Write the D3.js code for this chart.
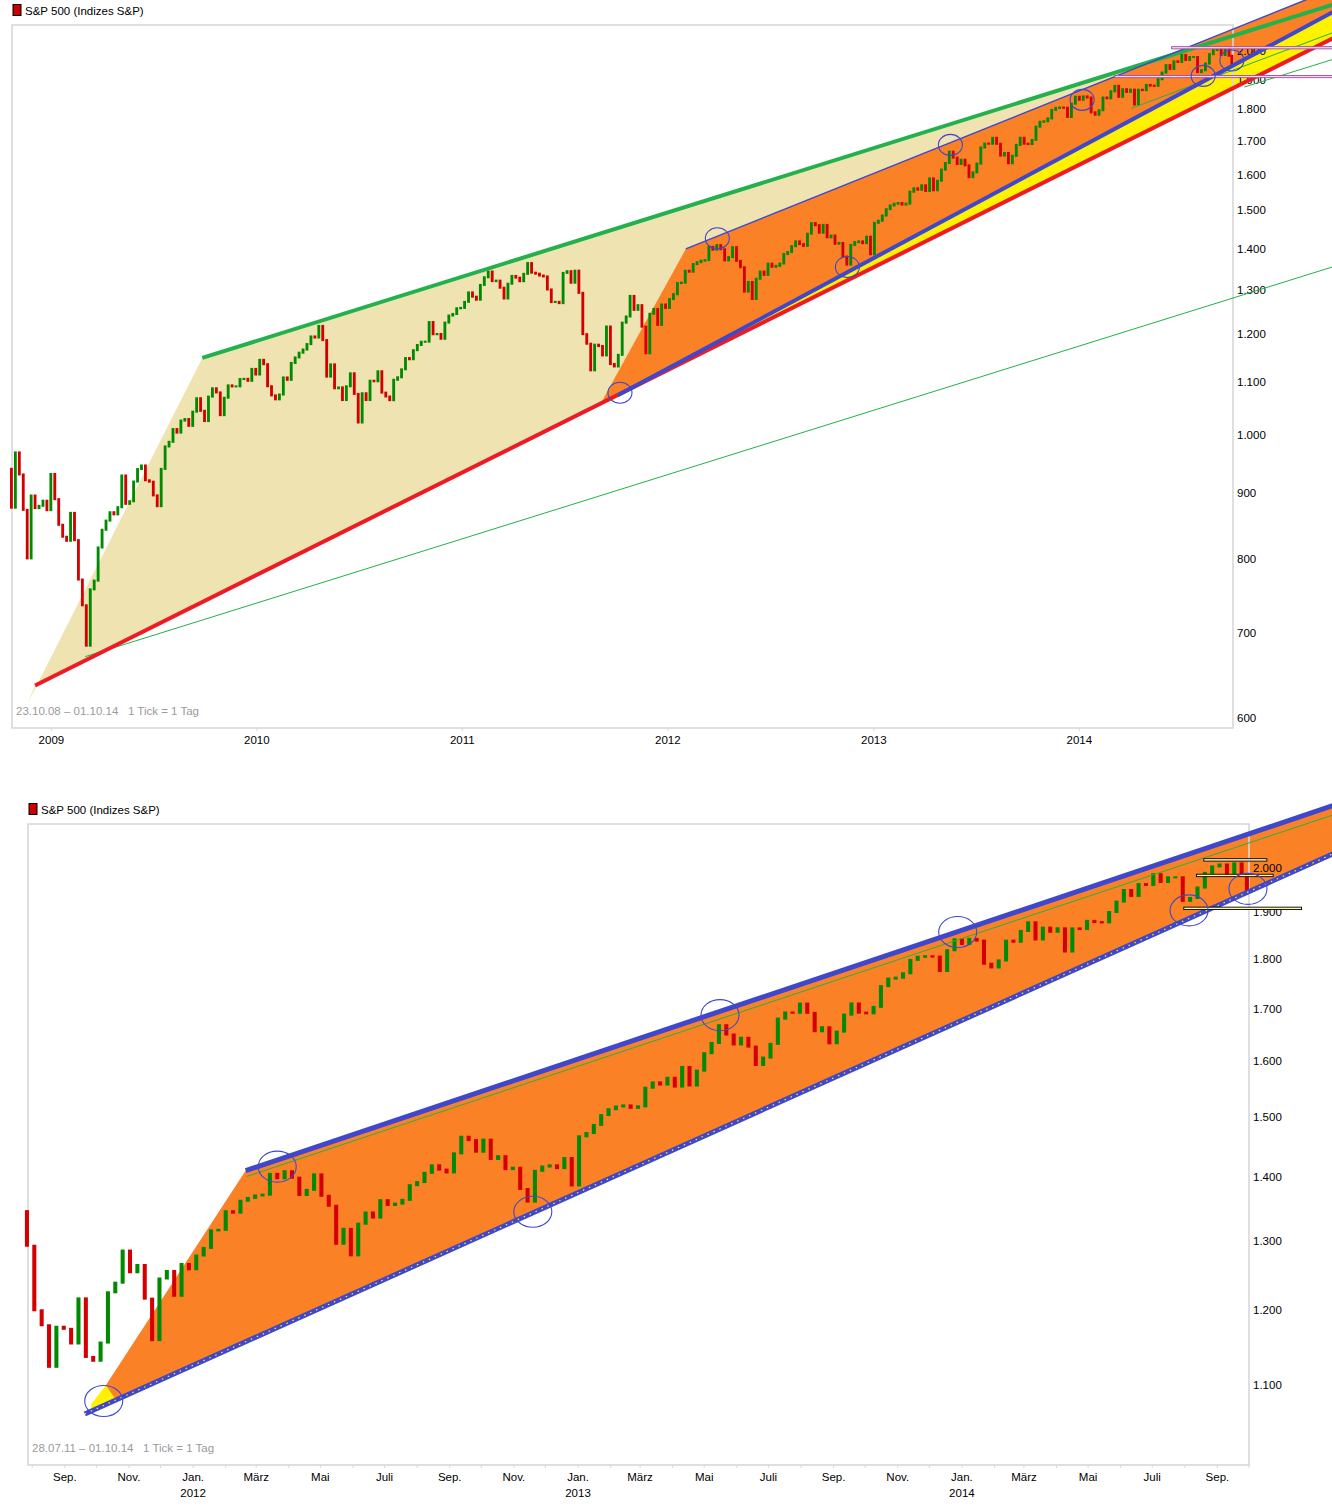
<!DOCTYPE html>
<html><head><meta charset="utf-8">
<script src="https://cdn.jsdelivr.net/npm/d3@7"></script>
<style>
body{margin:0;background:#fff}
svg{display:block}
text{font-family:"Liberation Sans",Arial,sans-serif;font-size:11.5px;white-space:pre}
</style></head><body>
<svg id="c" width="1332" height="1506"></svg>
<script>
// ---------- DATA (S&P 500, weekly closes) ----------
const firstWeekEnd = "2008-10-24";
const lastDay = "2014-10-01";
const prevClose = 940.55;
const c2008 = [876.77,968.75,930.99,873.29,800.03,896.24,876.07,879.73,887.88,872.80];
const c2009 = [931.80,890.35,850.12,831.95,825.88,868.60,826.84,770.05,735.09,683.38,756.55,768.54,815.94,842.50,856.56,869.60,866.23,877.52,929.23,882.88,887.00,919.14,940.09,946.21,921.23,918.90,896.42,879.13,940.38,979.26,987.48,1010.48,1004.09,1026.13,1028.93,1016.40,1042.73,1068.30,1044.38,1025.21,1071.49,1087.68,1079.60,1036.19,1069.30,1093.48,1091.38,1091.49,1105.98,1106.41,1102.47,1126.48,1115.10];
const c2010 = [1144.98,1136.03,1091.76,1073.87,1066.19,1075.51,1109.17,1104.49,1138.70,1149.99,1159.90,1166.59,1178.10,1194.37,1192.13,1217.28,1186.69,1110.88,1135.68,1087.69,1089.41,1064.88,1091.60,1117.51,1076.76,1022.58,1077.96,1064.88,1102.66,1101.60,1121.64,1079.25,1071.69,1064.59,1104.51,1109.55,1125.59,1148.67,1146.24,1165.15,1176.19,1183.08,1183.26,1225.85,1199.21,1199.73,1189.40,1224.71,1240.40,1243.91,1256.77,1257.64];
const c2011 = [1271.50,1293.24,1283.35,1276.34,1310.87,1329.15,1343.01,1319.88,1321.15,1304.28,1279.20,1313.80,1332.41,1328.17,1319.68,1337.38,1363.61,1340.20,1337.77,1333.27,1331.10,1300.16,1270.98,1271.50,1268.45,1339.67,1343.80,1316.14,1345.02,1292.28,1199.38,1178.81,1123.53,1176.80,1173.97,1154.23,1216.01,1136.43,1131.42,1155.46,1224.58,1238.25,1285.09,1253.23,1263.85,1215.65,1158.67,1244.28,1255.19,1219.66,1265.33,1257.60];
const c2012 = [1277.81,1289.09,1315.38,1316.33,1344.90,1342.64,1361.23,1365.74,1369.63,1370.87,1404.17,1397.11,1408.47,1398.08,1370.26,1378.53,1403.36,1369.10,1353.39,1295.22,1317.82,1278.04,1325.66,1342.84,1335.02,1362.16,1354.68,1356.78,1362.66,1385.97,1390.99,1405.87,1418.16,1411.13,1406.58,1437.92,1465.77,1460.15,1440.67,1460.93,1428.59,1433.19,1411.94,1414.20,1379.85,1359.88,1409.15,1416.18,1418.07,1413.58,1430.15,1385.59];
const c2013 = [1466.47,1472.05,1485.98,1502.96,1513.17,1517.93,1519.79,1515.60,1518.20,1551.18,1560.70,1556.89,1569.19,1553.28,1588.85,1555.25,1582.24,1614.42,1633.70,1667.47,1649.60,1630.74,1643.38,1626.73,1592.43,1606.28,1631.89,1680.19,1692.09,1691.65,1709.67,1691.42,1655.83,1663.50,1632.97,1655.17,1687.99,1709.91,1691.75,1690.50,1703.20,1744.50,1759.77,1761.64,1770.61,1798.18,1804.76,1805.81,1805.09,1775.32,1818.32,1841.40];
const c2014 = [1831.37,1842.37,1838.70,1790.29,1782.59,1797.02,1838.63,1836.25,1859.45,1878.04,1841.13,1866.52,1857.62,1865.09,1815.69,1864.85,1863.40,1881.14,1878.48,1877.86,1900.53,1923.57,1949.44,1936.16,1962.87,1960.96,1985.44,1967.57,1978.22,1978.34,1925.15,1931.59,1955.06,1988.40,2003.37,2007.71,1985.54,2010.40,1982.85,1946.16];

// axis ticks
const p1YTicks = [600,700,800,900,1000,1100,1200,1300,1400,1500,1600,1700,1800,1900,2000];
const p2YTicks = [1100,1200,1300,1400,1500,1600,1700,1800,1900,2000];
const p1Years = ["2009","2010","2011","2012","2013","2014"];
const monthNames = ["Jan.","Feb.","März","Apr.","Mai","Juni","Juli","Aug.","Sep.","Okt.","Nov.","Dez."];

// ---------- drawings (data coordinates: [date, index value]) ----------
const p1Tan    = [["2008-11-20",616],["2009-09-26",1149],["2015-03-31",2177],["2015-03-31",2050],["2008-12-03",636]];
const p1Orange = [["2011-09-04",1058.5],["2012-02-02",1399],["2015-03-31",2240],["2015-03-31",2150],["2011-10-04",1074]];
const p1Yellow = [["2011-10-04",1074],["2015-03-31",2150],["2015-03-31",2050],["2011-10-04",1072]];
const p1Red       = [["2008-12-03",636],["2015-03-31",2050]];
const p1BlueLow   = [["2011-10-04",1074],["2015-03-31",2150]];
const p1BlueUp    = [["2012-02-02",1399],["2015-03-31",2240]];
const p1GreenTop  = [["2009-09-26",1149],["2015-03-31",2177]];
const p1GreenLow  = [["2009-03-02",670],["2015-03-31",1356]];
const p1GreenA    = [["2014-04-03",1803],["2015-03-31",2070]];
const p1GreenB    = [["2014-10-21",1874],["2015-03-31",1972]];
const p1Levels    = [["2014-03-05",1910],["2014-06-14",2012]];
const p1LevelsEnd = "2015-03-31";
const p1Circles = [["2011-10-08",1079],["2012-03-29",1426],["2012-11-15",1354],["2013-05-17",1688],["2014-01-06",1831],["2014-08-09",1912],["2014-09-29",1966]];

const p2Yellow = [["2011-09-26",1076],["2011-10-10",1100],["2011-10-20",1084],["2011-09-26",1068]];
const p2Orange = [["2011-10-10",1100],["2012-02-20",1409.6],["2014-12-22",2151],["2014-12-22",2035],["2011-10-20",1081]];
const p2BlueLow = [["2011-09-20",1064],["2014-12-22",2035]];
const p2BlueUp  = [["2012-02-20",1409.6],["2014-12-22",2151]];
const p2Green   = [["2012-02-21",1400],["2014-12-22",2128]];
const p2Levels  = [["2014-08-19","2014-10-18",2019],["2014-08-12","2014-10-24",1983],["2014-07-31","2014-11-20",1909]];
const p2Circles = [["2011-10-08",1080],["2012-03-21",1416],["2012-11-19",1344],["2013-05-16",1687],["2013-12-28",1857],["2014-08-05",1904],["2014-09-30",1952]];

// ---------- rendering ----------
const parse = d3.utcParse("%Y-%m-%d");
const fmtDE = d3.formatLocale({decimal:",",thousands:".",grouping:[3],currency:["","€"]}).format(",");
const svg = d3.select("#c");
const C = {tan:"#efe3b1", orange:"#fb8127", yellow:"#fff200", red:"#ed1c24", green:"#22b14c",
           blue:"#3f48cc", purple:"#a349a4", up:"#008a00", down:"#d40000", frame:"#d8d8d8", grey:"#9a9a9a"};

const closes = [].concat(c2008,c2009,c2010,c2011,c2012,c2013,c2014);
const t0 = parse(firstWeekEnd);
const bars = closes.map((c,i)=>{
  const end = i===closes.length-1 ? parse(lastDay) : d3.utcDay.offset(t0,7*i);
  return {mid:d3.utcDay.offset(end,-2), open: i===0?prevClose:closes[i-1], close:c};
});

function panel(cfg){
  const x = d3.scaleUtc().domain(cfg.xdom.map(parse)).range([cfg.x0,cfg.x1]);
  const y = d3.scaleLog().domain(cfg.ydom).range([cfg.y1,cfg.y0]);
  const g = svg.append("g");
  const P = p=>[x(parse(p[0])), y(p[1])];
  const poly = (pts,fill)=>g.append("path").attr("d","M"+pts.map(P).map(q=>q.join(",")).join("L")+"Z").attr("fill",fill);
  const line = (pts,stroke,w,dash)=>{const l=g.append("path").attr("d",d3.line()(pts.map(P))).attr("fill","none")
      .attr("stroke",stroke).attr("stroke-width",w); if(dash) l.attr("stroke-dasharray",dash); return l;};

  cfg.fills.forEach(f=>poly(f[0],f[1]));
  g.append("rect").attr("x",cfg.x0).attr("y",cfg.y0).attr("width",cfg.x1-cfg.x0).attr("height",cfg.y1-cfg.y0)
    .attr("fill","none").attr("stroke",C.frame).attr("stroke-width",1.6);
  const d0 = d3.utcDay.offset(parse(cfg.xdom[0]),-3);
  const wk = x(parse("2012-01-08"))-x(parse("2012-01-01"));
  const bw = Math.max(1.6, wk*cfg.barFrac);
  g.append("g").selectAll("rect").data(bars.filter(b=>b.mid>=d0)).join("rect")
    .attr("x",b=>x(b.mid)-bw/2).attr("width",bw)
    .attr("y",b=>Math.min(y(b.open),y(b.close))-1)
    .attr("height",b=>Math.abs(y(b.open)-y(b.close))+2)
    .attr("fill",b=>b.close>=b.open?C.up:C.down);
  g.append("g").selectAll("text").data(cfg.yticks).join("text")
    .attr("x",cfg.x1+4).attr("y",v=>y(v)).attr("dy","0.36em").text(v=>fmtDE(v));
  cfg.xaxis(g,x);
  cfg.lines.forEach(l=>line(l[0],l[1],l[2],l[3]));
  cfg.levels(g,x,y);
  g.append("g").selectAll("ellipse").data(cfg.circles).join("ellipse")
    .attr("cx",d=>x(parse(d[0]))).attr("cy",d=>y(d[1])).attr("rx",cfg.rx).attr("ry",cfg.ry)
    .attr("fill","none").attr("stroke",C.blue).attr("stroke-width",1.1);
  g.append("rect").attr("x",cfg.x0+1).attr("y",cfg.y0-20.5).attr("width",8).attr("height",11)
    .attr("fill","#cc0000").attr("stroke","#000").attr("stroke-width",1);
  g.append("text").attr("x",cfg.x0+13).attr("y",cfg.y0-10.5).text("S&P 500 (Indizes S&P)");
  g.append("text").attr("x",cfg.x0+4).attr("y",cfg.y1-13).attr("fill",C.grey).text(cfg.range);
}

panel({
  x0:12,x1:1233,y0:25,y1:728, xdom:["2008-10-23","2014-10-01"], ydom:[589,2096], yticks:p1YTicks, barFrac:0.72,
  range:"23.10.08 \u2013 01.10.14   1 Tick = 1 Tag",
  fills:[[p1Tan,C.tan],[p1Yellow,C.yellow],[p1Orange,C.orange]],
  lines:[[p1GreenLow,C.green,1],[p1Red,C.red,4],[p1GreenTop,C.green,4],[p1BlueUp,C.blue,1.5],
         [p1GreenA,C.green,1],[p1GreenB,C.green,1],[p1BlueLow,C.blue,4]],
  circles:p1Circles, rx:12, ry:10.5,
  xaxis:(g,x)=>{
    p1Years.forEach(yr=>{
      const xx=x(parse(yr+"-01-01"));
      g.append("line").attr("x1",xx).attr("x2",xx).attr("y1",728).attr("y2",731).attr("stroke",C.frame);
      g.append("text").attr("x",xx).attr("y",744).attr("text-anchor","middle").text(yr);
    });
  },
  levels:(g,x,y)=>{
    p1Levels.forEach(l=>{
      const x1=x(parse(l[0])), x2=x(parse(p1LevelsEnd)), yy=y(l[1]);
      g.append("rect").attr("x",x1).attr("y",yy-1).attr("width",x2-x1).attr("height",2.2)
        .attr("fill","#f4d8f4").attr("stroke",C.purple).attr("stroke-width",0.9);
    });
  }
});

panel({
  x0:28,x1:1249,y0:824,y1:1465, xdom:["2011-07-28","2014-10-01"], ydom:[1003,2104], yticks:p2YTicks, barFrac:0.55,
  range:"28.07.11 \u2013 01.10.14   1 Tick = 1 Tag",
  fills:[[p2Yellow,C.yellow],[p2Orange,C.orange]],
  lines:[[p2Green,C.green,1],[p2BlueUp,C.blue,5],[p2BlueLow,C.blue,5],[p2BlueLow,C.yellow,1.2,"1.5 5"]],
  circles:p2Circles, rx:19, ry:15.5,
  xaxis:(g,x)=>{
    const months = d3.utcMonth.range(parse("2011-08-01"),parse("2014-10-02"));
    months.forEach(m=>{
      const xx=x(m);
      g.append("line").attr("x1",xx).attr("x2",xx).attr("y1",1465).attr("y2",1468).attr("stroke",C.frame);
      const mi=m.getUTCMonth();
      if(mi%2===0){
        g.append("text").attr("x",xx).attr("y",1481).attr("text-anchor","middle").text(monthNames[mi]);
        if(mi===0) g.append("text").attr("x",xx).attr("y",1497).attr("text-anchor","middle").text(String(m.getUTCFullYear()));
      }
    });
  },
  levels:(g,x,y)=>{
    p2Levels.forEach(l=>{
      const x1=x(parse(l[0])), x2=x(parse(l[1])), yy=y(l[2]);
      g.append("rect").attr("x",x1).attr("y",yy-1).attr("width",x2-x1).attr("height",2.4)
        .attr("fill","#fff6b0").attr("stroke","#000").attr("stroke-width",0.9);
    });
  }
});
</script></body></html>
